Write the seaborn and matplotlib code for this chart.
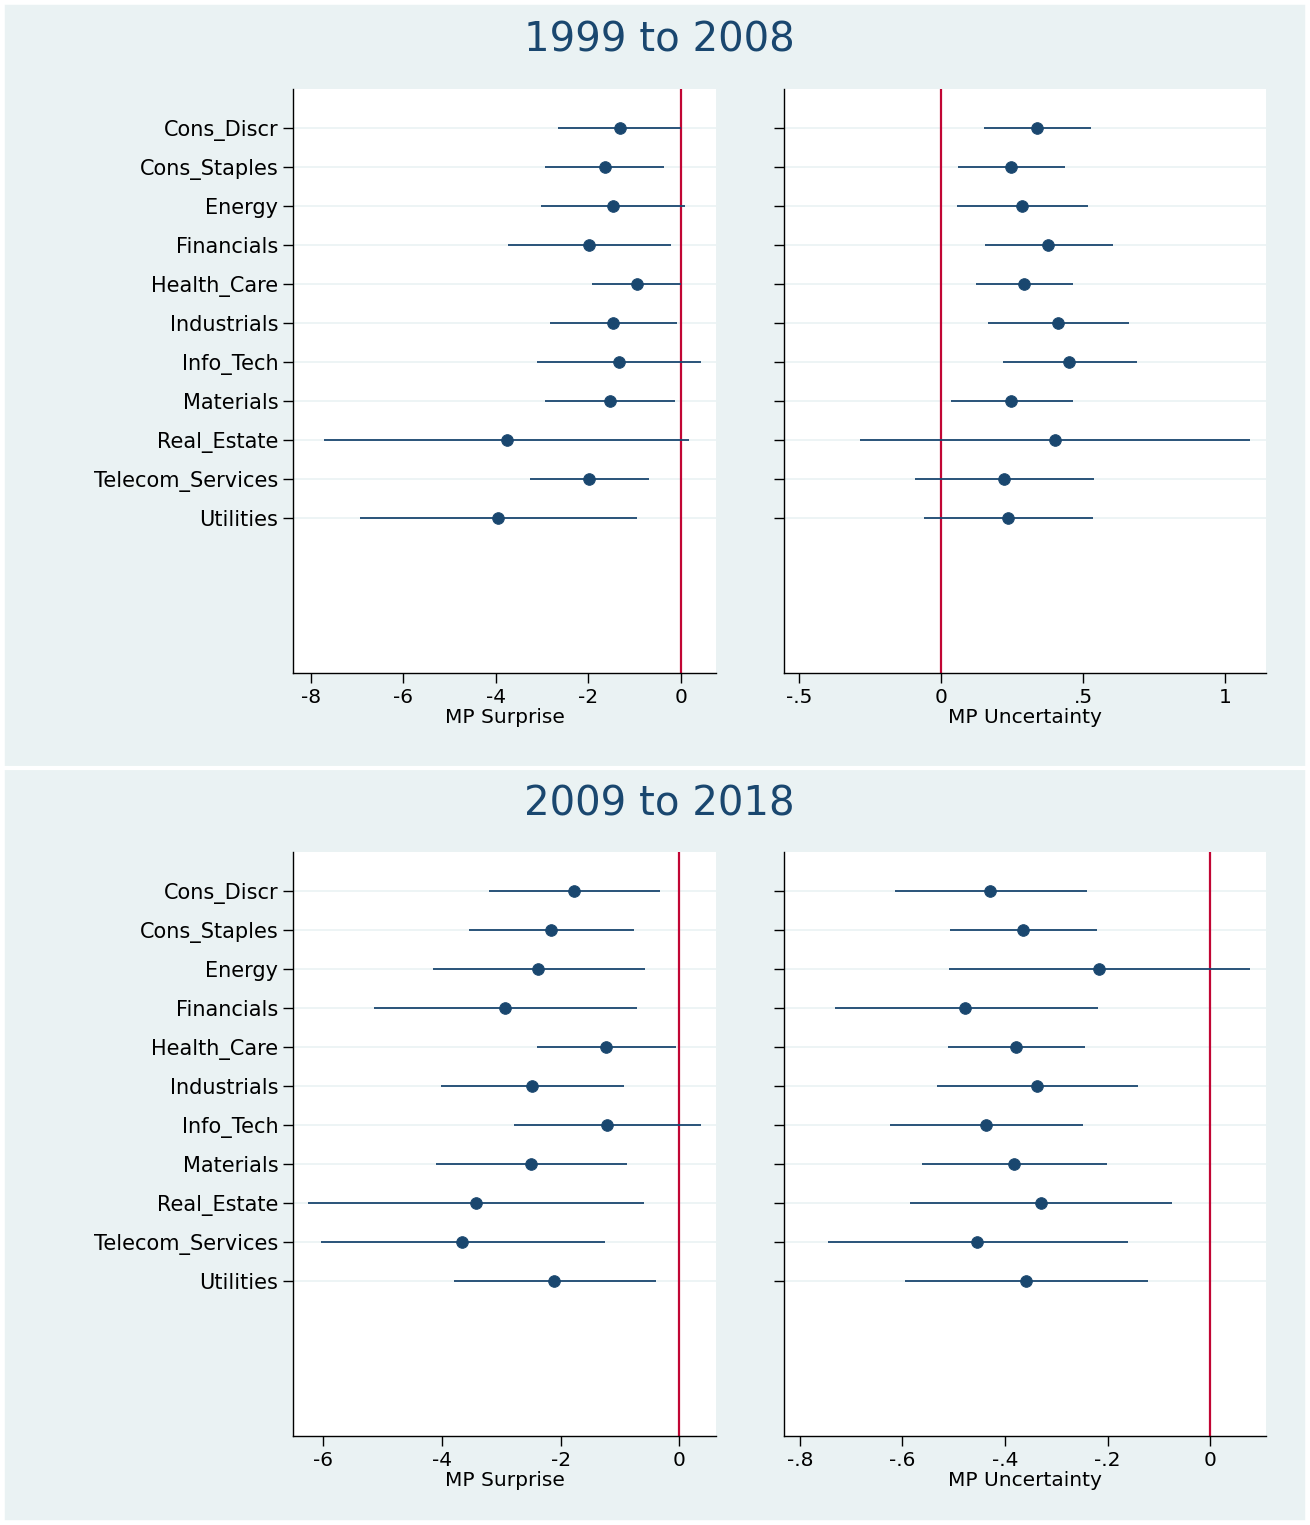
import numpy as np
import pandas as pd
import matplotlib
matplotlib.use('Agg')
import matplotlib.pyplot as plt
import seaborn as sns
from matplotlib.lines import Line2D

sectors = ['Cons_Discr', 'Cons_Staples', 'Energy', 'Financials', 'Health_Care',
           'Industrials', 'Info_Tech', 'Materials', 'Real_Estate',
           'Telecom_Services', 'Utilities']

# 1999 to 2008
surp1_est = [-1.32, -1.64, -1.47, -1.99, -0.95, -1.47, -1.34, -1.54, -3.76, -1.99, -3.96]
surp1_lo = [-2.66, -2.94, -3.03, -3.74, -1.92, -2.83, -3.11, -2.94, -7.72, -3.26, -6.94]
surp1_hi = [0.0, -0.37, 0.09, -0.22, 0.0, -0.09, 0.43, -0.13, 0.17, -0.69, -0.95]
unc1_est = [0.338, 0.246, 0.285, 0.377, 0.292, 0.412, 0.451, 0.246, 0.401, 0.222, 0.236]
unc1_lo = [0.151, 0.060, 0.056, 0.155, 0.123, 0.165, 0.218, 0.035, -0.285, -0.092, -0.060]
unc1_hi = [0.528, 0.437, 0.518, 0.606, 0.465, 0.662, 0.690, 0.465, 1.088, 0.539, 0.535]

# 2009 to 2018
surp2_est = [-1.77, -2.16, -2.38, -2.93, -1.23, -2.48, -1.21, -2.49, -3.42, -3.66, -2.11]
surp2_lo = [-3.20, -3.54, -4.15, -5.14, -2.39, -4.01, -2.78, -4.10, -6.25, -6.03, -3.79]
surp2_hi = [-0.32, -0.76, -0.57, -0.71, -0.05, -0.93, 0.37, -0.88, -0.59, -1.25, -0.39]
unc2_est = [-0.429, -0.365, -0.217, -0.478, -0.379, -0.338, -0.437, -0.382, -0.330, -0.454, -0.359]
unc2_lo = [-0.615, -0.507, -0.509, -0.732, -0.511, -0.533, -0.624, -0.562, -0.585, -0.745, -0.595]
unc2_hi = [-0.240, -0.220, 0.078, -0.219, -0.244, -0.140, -0.248, -0.201, -0.074, -0.161, -0.121]

navy = '#1a476f'
red = '#c10534'
bg = '#eaf2f3'

sns.set_style('white')
plt.rcParams['font.family'] = ['DejaVu Sans']
plt.rcParams['text.color'] = 'black'
plt.rcParams['axes.labelcolor'] = 'black'
plt.rcParams['xtick.color'] = 'black'
plt.rcParams['ytick.color'] = 'black'

W, H = 1310, 1525
fig = plt.figure(figsize=(W / 100, H / 100), dpi=100, facecolor=bg)


def px_axes(x0, x1, y0, y1):
    return fig.add_axes([x0 / W, 1 - y1 / H, (x1 - x0) / W, (y1 - y0) / H])


def panel(ax, est, lo, hi, xlim, ticks, ticklabels, xlabel, show_labels):
    df = pd.DataFrame({'sector': sectors, 'est': est, 'lo': lo, 'hi': hi,
                       'pos': np.arange(len(sectors))})
    for p in df['pos']:
        ax.axhline(p, color='#eaf2f3', lw=1.2, zorder=0)
    ax.axvline(0, color=red, lw=1.6, zorder=1)
    ax.hlines(df['pos'], df['lo'], df['hi'], color=navy, lw=1.3, zorder=2)
    sns.scatterplot(data=df, x='est', y='pos', ax=ax, color=navy, s=70,
                    edgecolor=navy, zorder=3, legend=False)
    ax.set_xlim(*xlim)
    ax.set_ylim(13.97, -1)
    ax.set_xticks(ticks)
    ax.set_xticklabels(ticklabels, fontsize=14.5)
    ax.set_yticks(df['pos'])
    ax.set_yticklabels(sectors if show_labels else [''] * len(sectors), fontsize=15)
    ax.tick_params(axis='both', length=7, width=1, color='black', left=True, bottom=True)
    ax.set_xlabel(xlabel, fontsize=14.5, labelpad=1)
    ax.set_ylabel('')
    for s in ['top', 'right']:
        ax.spines[s].set_visible(False)
    for s in ['left', 'bottom']:
        ax.spines[s].set_color('black')
        ax.spines[s].set_linewidth(1)
    ax.set_facecolor('white')


for off, title, data in [
    (0, '1999 to 2008', (surp1_est, surp1_lo, surp1_hi, unc1_est, unc1_lo, unc1_hi)),
    (763, '2009 to 2018', (surp2_est, surp2_lo, surp2_hi, unc2_est, unc2_lo, unc2_hi)),
]:
    axl = px_axes(293, 716, 89 + off, 673 + off)
    axr = px_axes(784, 1266, 89 + off, 673 + off)
    if off == 0:
        panel(axl, *data[:3], (-8.39, 0.76), [-8, -6, -4, -2, 0],
              ['-8', '-6', '-4', '-2', '0'], 'MP Surprise', True)
        panel(axr, *data[3:], (-0.553, 1.144), [-0.5, 0, 0.5, 1],
              ['-.5', '0', '.5', '1'], 'MP Uncertainty', False)
    else:
        panel(axl, *data[:3], (-6.51, 0.62), [-6, -4, -2, 0],
              ['-6', '-4', '-2', '0'], 'MP Surprise', True)
        panel(axr, *data[3:], (-0.831, 0.109), [-0.8, -0.6, -0.4, -0.2, 0],
              ['-.8', '-.6', '-.4', '-.2', '0'], 'MP Uncertainty', False)
    fig.text(659 / W, 1 - (41 + off) / H, title, ha='center', va='center',
             fontsize=29, color=navy)

fig.add_artist(Line2D([0, 1], [1 - 768 / H, 1 - 768 / H], color='white', lw=3))
fig.add_artist(Line2D([0, 1], [1 - 2 / H, 1 - 2 / H], color='white', lw=4))
fig.add_artist(Line2D([0, 1], [2 / H, 2 / H], color='white', lw=4))
fig.add_artist(Line2D([2 / W, 2 / W], [0, 1], color='white', lw=4))
fig.add_artist(Line2D([1 - 2 / W, 1 - 2 / W], [0, 1], color='white', lw=4))

fig.savefig('out.png', dpi=100, facecolor=bg)
